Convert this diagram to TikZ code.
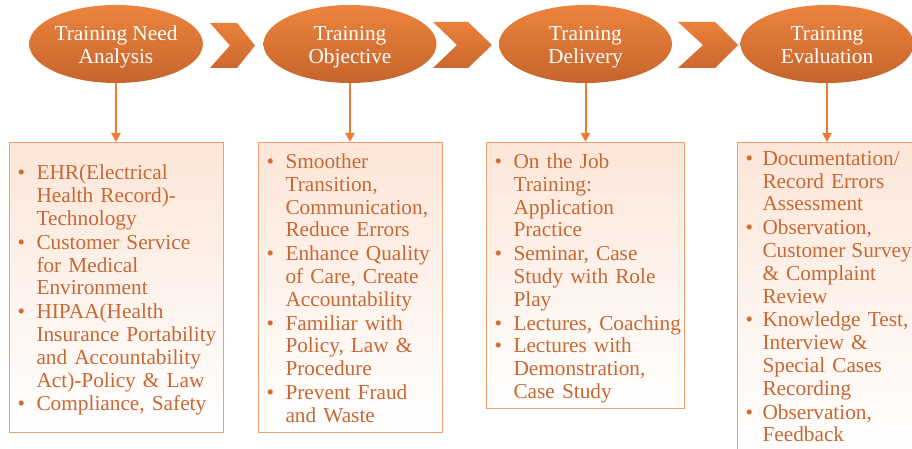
\documentclass[tikz,border=0pt]{standalone}
\usepackage{fontspec}
\setmainfont{Liberation Serif}
\usetikzlibrary{shapes.geometric,arrows.meta}
\definecolor{ellTop}{RGB}{236,132,62}
\definecolor{ellBot}{RGB}{198,100,44}
\definecolor{chevTop}{RGB}{234,128,58}
\definecolor{chevBot}{RGB}{204,104,46}
\definecolor{lineOr}{RGB}{237,125,49}
\definecolor{boxBorder}{RGB}{240,160,110}
\definecolor{boxTop}{RGB}{252,230,216}
\definecolor{txtOr}{RGB}{200,104,52}
\definecolor{bulOr}{RGB}{210,108,50}
\newcommand\bitem[2][19pt]{\par\noindent\makebox[#1][l]{\textcolor{bulOr}{\textbullet}}\begin{tabular}[t]{@{}l@{}}#2\end{tabular}}
\begin{document}
\begin{tikzpicture}[x=1pt,y=-1pt,
  stage/.style={ellipse, minimum width=173pt, minimum height=78pt, inner sep=0pt,
    top color=ellTop, bottom color=ellBot, draw=none, text=white, align=center,
    font=\fontsize{21.3pt}{23pt}\selectfont},
  infobox/.style={rectangle, draw=boxBorder, line width=1pt, top color=boxTop, bottom color=white,
    anchor=north west, inner xsep=8pt, inner ysep=0pt, align=left, text=txtOr,
    font=\fontsize{21.3pt}{22.8pt}\selectfont},
  chev/.style={top color=chevTop, bottom color=chevBot, draw=none},
  conn/.style={draw=lineOr, line width=2pt, -{Triangle[width=9pt,length=9pt]}}]
\clip (0,0) rectangle (912,449);
\fill[white] (0,0) rectangle (912,449);

% stages
\node[stage] (s1) at (116,44) {\rule{0pt}{23pt}Training Need\\Analysis\strut};
\node[stage] (s2) at (350,44) {\rule{0pt}{23pt}Training\\Objective\strut};
\node[stage] (s3) at (585.5,44) {\rule{0pt}{23pt}Training\\Delivery\strut};
\node[stage] (s4) at (827,44) {\rule{0pt}{23pt}Training\\Evaluation\strut};

% chevrons
\path[chev] (210,23) -- (237,23) -- (255,45.5) -- (237,68) -- (210,68) -- (230,45.5) -- cycle;
\path[chev] (433,22) -- (468,22) -- (492,45) -- (468,68) -- (433,68) -- (457,45) -- cycle;
\path[chev] (678,22) -- (715,22) -- (738,45) -- (715,68) -- (678,68) -- (703,45) -- cycle;

% boxes
\node[infobox, text width=198pt, minimum height=290pt] (b1) at (9,142) {%
\bitem{EHR(Electrical\\Health Record)-\\Technology}
\bitem{Customer Service\\for Medical\\Environment}
\bitem{HIPAA(Health\\Insurance Portability\\and Accountability\\Act)-Policy \& Law}
\bitem{Compliance, Safety}};

\node[infobox, text width=168pt, minimum height=290pt] (b2) at (258,142) {%
\bitem{Smoother\\Transition,\\Communication,\\Reduce Errors}
\bitem{Enhance Quality\\of Care, Create\\Accountability}
\bitem{Familiar with\\Policy, Law \&\\Procedure}
\bitem{Prevent Fraud\\and Waste}};

\node[infobox, text width=182pt, minimum height=266pt] (b3) at (486,142) {%
\bitem{On the Job\\Training:\\Application\\Practice}
\bitem{Seminar, Case\\Study with Role\\Play}
\bitem{Lectures, Coaching}
\bitem{Lectures with\\Demonstration,\\Case Study}};

\node[infobox, text width=166pt, minimum height=314pt] (b4) at (737,142) {%
\bitem[17pt]{Documentation/\\Record Errors\\Assessment}
\bitem[17pt]{Observation,\\Customer\hspace{-1pt} Survey\\\& Complaint\\Review}
\bitem[17pt]{Knowledge Test,\\Interview \&\\Special Cases\\Recording}
\bitem[17pt]{Observation,\\Feedback}\par\vspace*{9pt}};

% connectors
\draw[conn] (s1.south) -- (s1.south |- b1.north);
\draw[conn] (s2.south) -- (s2.south |- b2.north);
\draw[conn] (s3.south) -- (s3.south |- b3.north);
\draw[conn] (s4.south) -- (s4.south |- b4.north);
\end{tikzpicture}
\end{document}
